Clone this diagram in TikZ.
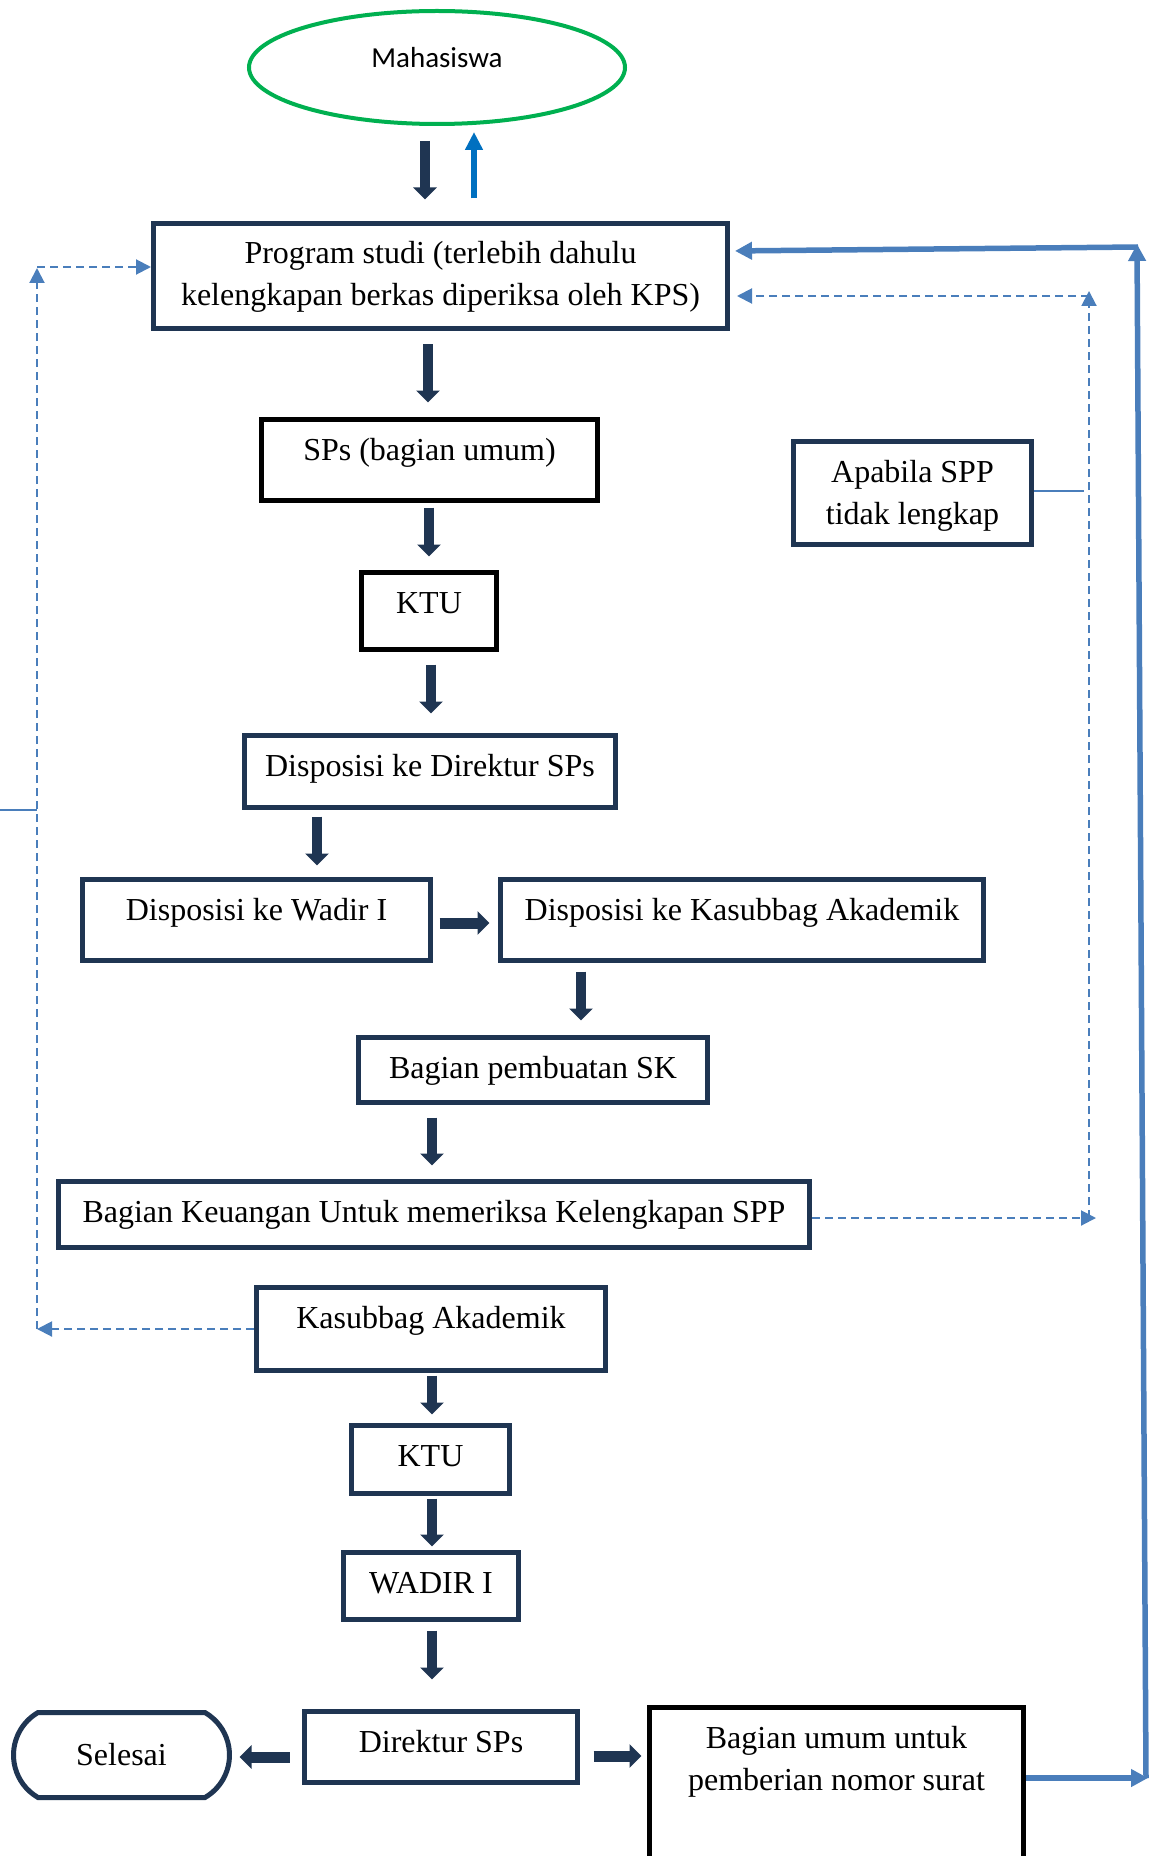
\documentclass[tikz,border=0pt]{standalone}
\usepackage{fontspec}
\setmainfont{Liberation Serif}
\newfontfamily\calibrifont{Carlito}
\usetikzlibrary{arrows.meta,shapes.geometric,shapes.misc}
\definecolor{navy}{HTML}{1F3552}
\definecolor{grn}{HTML}{00B050}
\definecolor{ublue}{HTML}{0070C0}
\definecolor{lblue}{HTML}{4A7EBB}
\newcommand\tb[3]{\parbox[c][#2][t]{#1}{\centering\vspace*{5.55pt}\strut #3\par}}
\begin{document}
\begin{tikzpicture}[x=0.5pt,y=-0.5pt,
  box/.style={draw=navy, line width=2.5pt, inner sep=0pt, fill=white, font=\fontsize{16}{21}\selectfont},
  bbox/.style={box, draw=black},
  darr/.style={draw=navy, line width=5pt, -{Triangle[width=11.5pt,length=6pt]}},
  harr/.style={draw=navy, line width=5.5pt, -{Triangle[width=11.5pt,length=6pt]}},
  uparr/.style={draw=ublue, line width=3pt, -{Triangle[width=8.5pt,length=9pt]}},
  bthick/.style={draw=lblue, line width=2.75pt, -{Triangle[width=8.5pt,length=8.5pt]}},
  dsh/.style={draw=lblue, line width=1pt, dash pattern=on 4pt off 2.5pt, -{Triangle[width=7.5pt,length=7.5pt]}},
  thinln/.style={draw=lblue, line width=1pt}]
\useasboundingbox (0,0) rectangle (1155,1856);

% nodes
\node[ellipse, draw=grn, line width=2pt, minimum width=188pt, minimum height=56.5pt, inner sep=0pt,
      font=\calibrifont\fontsize{14.5}{17}\selectfont] (mah) at (437,67.5) {\raisebox{0pt}[0pt][0pt]{Mahasiswa}};
\node[box] (ps) at (440.5,276) {\tb{287pt}{52.5pt}{Program studi (terlebih dahulu\\kelengkapan berkas diperiksa oleh KPS)}};
\node[bbox] (spu) at (429.5,460) {\tb{168pt}{40.5pt}{SPs (bagian umum)}};
\node[bbox] (ktu1) at (429,611) {\tb{67.5pt}{38.5pt}{KTU}};
\node[box] (dd) at (430,771.5) {\tb{185.5pt}{36pt}{Disposisi ke Direktur SPs}};
\node[box] (dw) at (256.5,920) {\tb{174pt}{40.5pt}{Disposisi ke Wadir I}};
\node[box] (dk) at (742,920) {\tb{241.5pt}{40.5pt}{Disposisi ke Kasubbag Akademik}};
\node[box] (sk) at (533,1070) {\tb{174.5pt}{32.5pt}{Bagian pembuatan SK}};
\node[box] (keu) at (434,1214.5) {\tb{375.5pt}{33pt}{Bagian Keuangan Untuk memeriksa Kelengkapan SPP}};
\node[box] (ka) at (431,1329) {\tb{174.5pt}{41.5pt}{Kasubbag Akademik}};
\node[box] (ktu2) at (430.5,1459.5) {\tb{79pt}{34pt}{KTU}};
\node[box] (wadir) at (431,1586) {\tb{87.5pt}{33.5pt}{WADIR I}};
\node[box] (dir) at (441,1747) {\tb{136.5pt}{35.5pt}{Direktur SPs}};
\node[bbox] (bu) at (836.5,1795) {\tb{187pt}{87.5pt}{Bagian umum untuk\\pemberian nomor surat}};
\node[box] (ap) at (912.5,493) {\tb{119pt}{51.5pt}{Apabila SPP\\tidak lengkap}};
\node[rounded rectangle, rounded rectangle arc length=120, draw=navy, line width=2.5pt, fill=white,
      minimum width=108pt, minimum height=42.5pt, inner sep=0pt, font=\fontsize{16}{21}\selectfont] (sel) at (121.5,1755) {Selesai};

% coordinates for free ends
\coordinate (rb) at (1148,1778);
\coordinate (rb2) at (1146,1778);
\coordinate (rt) at (1137,244);
\coordinate (rt2) at (1138,247);
\coordinate (dr1) at (1096,1218);
\coordinate (dr2) at (1089,1218);
\coordinate (dr3) at (1089,291);
\coordinate (dr4) at (1089,296);
\coordinate (dl1) at (37,1329);
\coordinate (dl2) at (37,268);
\coordinate (dl3) at (37,267);
\coordinate (st1) at (0,810);
\coordinate (st2) at (37,810);
\coordinate (st3) at (1084,491);

% main flow
\draw[darr, shorten <=7.5pt, shorten >=10.75pt] (425,0 |- mah.south) -- (425,0 |- ps.north);
\draw[uparr, shorten <=11.25pt, shorten >=3pt] (474,0 |- ps.north) -- (474,0 |- mah.south);
\draw[darr, shorten <=6.75pt, shorten >=7.25pt] (428,0 |- ps.south) -- (428,0 |- spu.north);
\draw[darr, shorten <=2.25pt, shorten >=6.75pt] (429,0 |- spu.south) -- (429,0 |- ktu1.north);
\draw[darr, shorten <=6.25pt, shorten >=9.75pt] (431,0 |- ktu1.south) -- (431,0 |- dd.north);
\draw[darr, shorten <=3.25pt, shorten >=5.75pt] (317,0 |- dd.south) -- (317,0 |- dw.north);
\draw[harr, shorten <=3.25pt, shorten >=4.25pt] (dw.east |- 0,923) -- (dk.west |- 0,923);
\draw[darr, shorten <=4.25pt, shorten >=7.25pt] (581,0 |- dk.south) -- (581,0 |- sk.north);
\draw[darr, shorten <=6.25pt, shorten >=6.75pt] (432,0 |- sk.south) -- (432,0 |- keu.north);
\draw[darr, shorten <=1.25pt, shorten >=4.25pt] (432,0 |- ka.south) -- (432,0 |- ktu2.north);
\draw[darr, shorten <=1.25pt, shorten >=1.75pt] (432,0 |- ktu2.south) -- (432,0 |- wadir.north);
\draw[darr, shorten <=4.25pt, shorten >=14.75pt] (432,0 |- wadir.south) -- (432,0 |- dir.north);
\draw[harr, shorten <=6.25pt, shorten >=3.75pt] (dir.west |- 0,1757) -- (sel.east |- 0,1757);
\draw[harr, shorten <=6.75pt, shorten >=2.75pt] (dir.east |- 0,1756) -- (bu.west |- 0,1756);

% thick blue return
\draw[bthick] (bu.east |- 0,1778) -- (rb);
\draw[bthick] (rb2) -- (rt);
\draw[bthick, shorten >=2.5pt] (rt2) -- (ps.east |- 0,251);

% dashed right loop
\draw[dsh] (keu.east |- 0,1218) -- (dr1);
\draw[dsh] (dr2) -- (dr3);
\draw[dsh, shorten >=3.5pt] (dr4) -- (ps.east |- 0,296);
\draw[thinln] (ap.east |- 0,491) -- (st3);

% dashed left loop
\draw[dsh] (ka.west |- 0,1329) -- (dl1);
\draw[dsh] (dl1) -- (dl2);
\draw[dsh] (dl3) -- (ps.west |- 0,267);
\draw[thinln] (st1) -- (st2);
\end{tikzpicture}
\end{document}
